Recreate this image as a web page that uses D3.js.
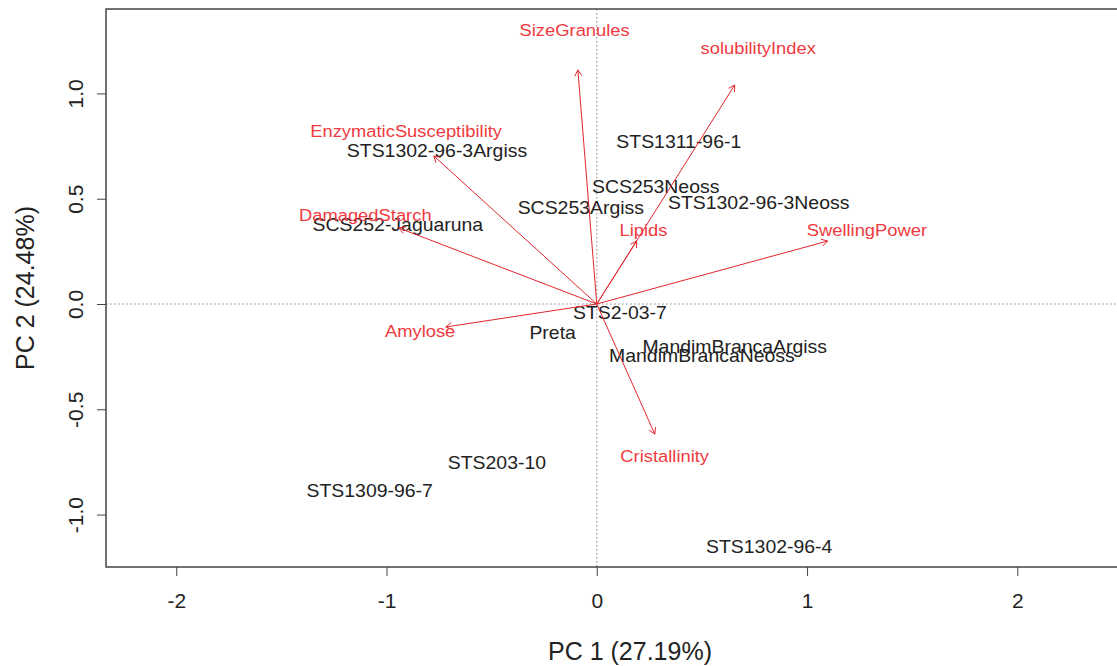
<!DOCTYPE html>
<html lang="en"><head>
<meta charset="utf-8"/>
<title>PCA biplot</title>
<script src="https://d3js.org/d3.v7.min.js"></script>
<style>
  body { margin: 0; padding: 0; background: #fff; width: 1117px; height: 666px; overflow: hidden; }
  svg text { font-family: "Liberation Sans", Arial, sans-serif; }
</style>
</head>
<body>
<div id="chart"></div>
<script>
  // Sample scores (PC1, PC2)
  const sampleNames = ["STS1302-96-3Argiss", "STS1311-96-1", "SCS253Neoss", "SCS253Argiss",
    "STS1302-96-3Neoss", "SCS252-Jaguaruna", "STS2-03-7", "Preta", "MandimBrancaArgiss",
    "MandimBrancaNeoss", "STS203-10", "STS1309-96-7", "STS1302-96-4"];
  const samplePC1 = [-0.76, 0.39, 0.28, -0.076, 0.77, -0.946, 0.11, -0.21, 0.656, 0.50, -0.475, -1.08, 0.82];
  const samplePC2 = [0.727, 0.77, 0.556, 0.456, 0.48, 0.375, -0.043, -0.138, -0.204, -0.247, -0.755, -0.888, -1.154];

  // Variable loadings (arrow tips)
  const varNames = ["SizeGranules", "solubilityIndex", "EnzymaticSusceptibility", "DamagedStarch",
    "Lipids", "SwellingPower", "Amylose", "Cristallinity"];
  const varPC1 = [-0.090, 0.656, -0.775, -0.941, 0.190, 1.098, -0.718, 0.276];
  const varPC2 = [1.112, 1.040, 0.703, 0.361, 0.299, 0.299, -0.109, -0.618];

  const xTicks = [-2, -1, 0, 1, 2];
  const yTicks = [-1.0, -0.5, 0.0, 0.5, 1.0];

  const W = 1117, H = 666;
  const plot = {left: 106, top: 9, right: 1154, bottom: 567};

  const svg = d3.select("#chart").append("svg")
      .attr("width", W).attr("height", H);

  const x = d3.scaleLinear().domain([-2.334, 2.65]).range([plot.left, plot.right]);
  const y = d3.scaleLinear().domain([-1.249, 1.401]).range([plot.bottom, plot.top]);

  // R style: plain hyphen for negatives
  const fmtX = d => d3.format("d")(d).replace("\u2212", "-");
  const fmtY = d => d3.format(".1f")(d).replace("\u2212", "-");

  // zero reference lines (dotted)
  svg.append("line")
      .attr("x1", plot.left).attr("x2", plot.right)
      .attr("y1", y(0)).attr("y2", y(0))
      .attr("stroke", "#888").attr("stroke-width", 1).attr("stroke-dasharray", "1.5,2.5");
  svg.append("line")
      .attr("x1", x(0)).attr("x2", x(0))
      .attr("y1", plot.top).attr("y2", plot.bottom)
      .attr("stroke", "#888").attr("stroke-width", 1).attr("stroke-dasharray", "1.5,2.5");

  // sample labels (slightly wide, like the original export)
  svg.selectAll(".sample")
      .data(sampleNames)
      .enter().append("text")
      .attr("class", "sample")
      .attr("transform", (d, i) => `translate(${x(samplePC1[i])},${y(samplePC2[i])}) scale(1.08,1)`)
      .attr("text-anchor", "middle")
      .attr("dominant-baseline", "central")
      .attr("fill", "#222")
      .style("font-size", "18px")
      .text(d => d);

  // variable arrows
  const red = "#e2262e";
  const arrows = svg.append("g");
  varNames.forEach((name, i) => {
    const x0 = x(0), y0 = y(0), x1 = x(varPC1[i]), y1 = y(varPC2[i]);
    arrows.append("line")
        .attr("x1", x0).attr("y1", y0).attr("x2", x1).attr("y2", y1)
        .attr("stroke", red).attr("stroke-width", 1);
    const ang = Math.atan2(y1 - y0, x1 - x0);
    const len = 7, spread = Math.PI / 6;
    [ang + Math.PI - spread, ang + Math.PI + spread].forEach(a => {
      arrows.append("line")
          .attr("x1", x1).attr("y1", y1)
          .attr("x2", x1 + len * Math.cos(a)).attr("y2", y1 + len * Math.sin(a))
          .attr("stroke", red).attr("stroke-width", 1);
    });
  });

  // variable labels placed slightly beyond the arrow tips
  svg.selectAll(".varlab")
      .data(varNames)
      .enter().append("text")
      .attr("class", "varlab")
      .attr("transform", (d, i) => `translate(${x(varPC1[i] * 1.17)},${y(varPC2[i] * 1.17)}) scale(1.08,1)`)
      .attr("text-anchor", "middle")
      .attr("dominant-baseline", "central")
      .attr("fill", "#f03a40")
      .style("font-size", "17px")
      .text(d => d);

  // plot box
  svg.append("rect")
      .attr("x", plot.left).attr("y", plot.top)
      .attr("width", plot.right - plot.left).attr("height", plot.bottom - plot.top)
      .attr("fill", "none").attr("stroke", "#444").attr("stroke-width", 1.5);

  // x axis
  const xAxis = svg.append("g")
      .attr("transform", `translate(0,${plot.bottom})`)
      .call(d3.axisBottom(x).tickValues(xTicks).tickFormat(fmtX).tickSize(9).tickPadding(17));
  xAxis.select(".domain").remove();
  xAxis.selectAll("line").attr("stroke", "#444");
  xAxis.selectAll("text").style("font-size", "21px").attr("fill", "#222")
      .style("font-family", "'Liberation Sans', Arial, sans-serif");

  // y axis with rotated labels
  const yAxis = svg.append("g")
      .attr("transform", `translate(${plot.left},0)`)
      .call(d3.axisLeft(y).tickValues(yTicks).tickFormat(fmtY).tickSize(9));
  yAxis.select(".domain").remove();
  yAxis.selectAll("line").attr("stroke", "#444");
  yAxis.selectAll("text")
      .attr("x", null).attr("dy", null)
      .attr("text-anchor", "middle")
      .attr("transform", "translate(-23,0) rotate(-90)")
      .attr("fill", "#222")
      .style("font-size", "21px")
      .style("font-family", "'Liberation Sans', Arial, sans-serif");

  // axis titles
  svg.append("text")
      .attr("x", (plot.left + plot.right) / 2).attr("y", 660)
      .attr("text-anchor", "middle").attr("fill", "#222")
      .style("font-size", "25px")
      .text("PC 1 (27.19%)");
  svg.append("text")
      .attr("transform", `translate(34,${(plot.top + plot.bottom) / 2}) rotate(-90)`)
      .attr("text-anchor", "middle").attr("fill", "#222")
      .style("font-size", "25px")
      .text("PC 2 (24.48%)");
</script>
</body></html>
